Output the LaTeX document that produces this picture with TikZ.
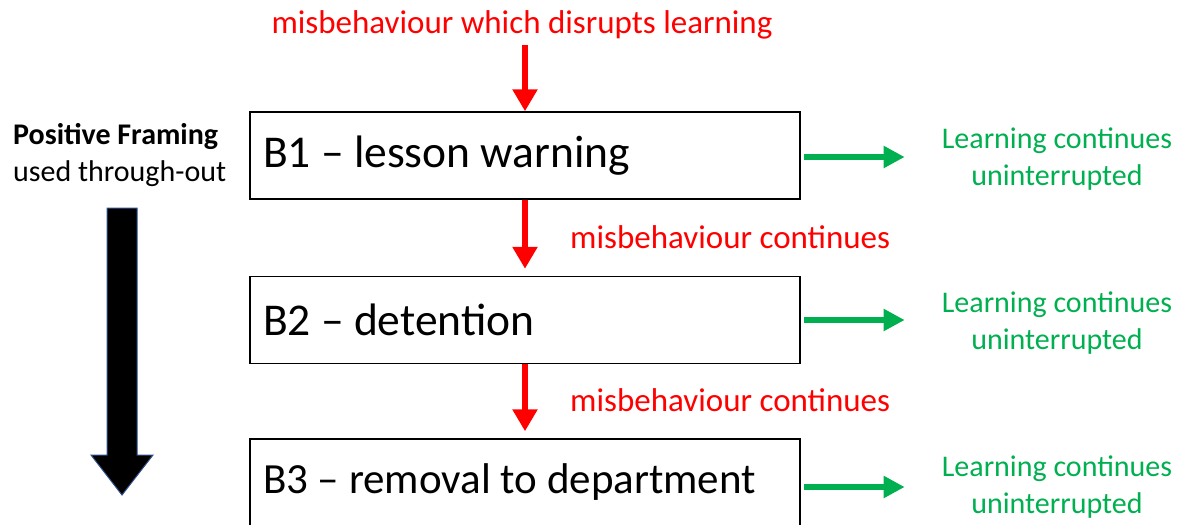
\documentclass[tikz,border=0pt]{standalone}
\usepackage{fontspec}
\setmainfont{Carlito}
\usepackage{tikz}
\usetikzlibrary{arrows.meta}
\usetikzlibrary{positioning}

\definecolor{warnred}{HTML}{FF0000}
\definecolor{goodgreen}{HTML}{00B050}
\definecolor{outlineblue}{HTML}{2F528F}

\begin{document}
\begin{tikzpicture}[x=1pt, y=-1pt,
        stage/.style={draw, line width=1.5pt, minimum height=87pt, inner xsep=13pt, font=\fontsize{45.5}{54}\selectfont},
        redlabel/.style={text=warnred, inner sep=0pt, font=\fontsize{33}{40}\selectfont},
        greenlabel/.style={text=goodgreen, inner sep=0pt, align=center, font=\fontsize{30}{36.5}\selectfont},
        sidelabel/.style={inner sep=0pt, align=left, font=\fontsize{30}{36.5}\selectfont},
        redarrow/.style={warnred, line width=6pt, -{Triangle[width=24pt, length=22pt]}},
        greenarrow/.style={goodgreen, line width=6pt, -{Triangle[width=21pt, length=21pt]}}]
    \useasboundingbox (0,0) rectangle (1184,525);
    \clip (0,0) rectangle (1184,525);
    \node[stage] (b1) at (525,155.5) {\makebox[524pt][l]{B1 – lesson warning}};
    \node[stage] (b2) at (525,320) {\makebox[524pt][l]{B2 – detention}};
    \node[stage, font=\fontsize{43}{52}\selectfont] (b3) at (525,482.5) {\makebox[524pt][l]{B3 – removal to department}};
    \node[redlabel] (cause) at (522,25) {misbehaviour which disrupts learning};
    \coordinate (start) at (525,45);
    \node[redlabel, anchor=west] (again1) at (570,237) {misbehaviour continues};
    \node[redlabel, anchor=west] (again2) at (570,400) {misbehaviour continues};
    \node[greenlabel] (g1) at (1057,159) {Learning continues\\uninterrupted};
    \node[greenlabel] (g2) at (1057,323) {Learning continues\\uninterrupted};
    \node[greenlabel] (g3) at (1057,487) {Learning continues\\uninterrupted};
    \node[sidelabel, anchor=west] (pf) at (13,155) {\textbf{Positive Framing}\\used through-out};
    \draw[redarrow] (start) -- (b1.north);
    \draw[redarrow, shorten >=7pt] (b1.south) -- (b2.north);
    \draw[redarrow, shorten >=7pt] (b2.south) -- (b3.north);
    \draw[greenarrow, shorten <=3pt, shorten >=37pt] (b1.east |- 0,157) -- (g1.west |- 0,157);
    \draw[greenarrow, shorten <=3pt, shorten >=37pt] (b2.east) -- (b2.east -| g2.west);
    \draw[greenarrow, shorten <=3pt, shorten >=37pt] (b3.east |- 0,487) -- (g3.west |- 0,487);
    \draw[fill=black, draw=outlineblue, line width=1pt] (107,208) -- (137,208) -- (137,455) -- (153,455) -- (122,495) -- (91,455) -- (107,455) -- cycle;
\end{tikzpicture}
\end{document}
